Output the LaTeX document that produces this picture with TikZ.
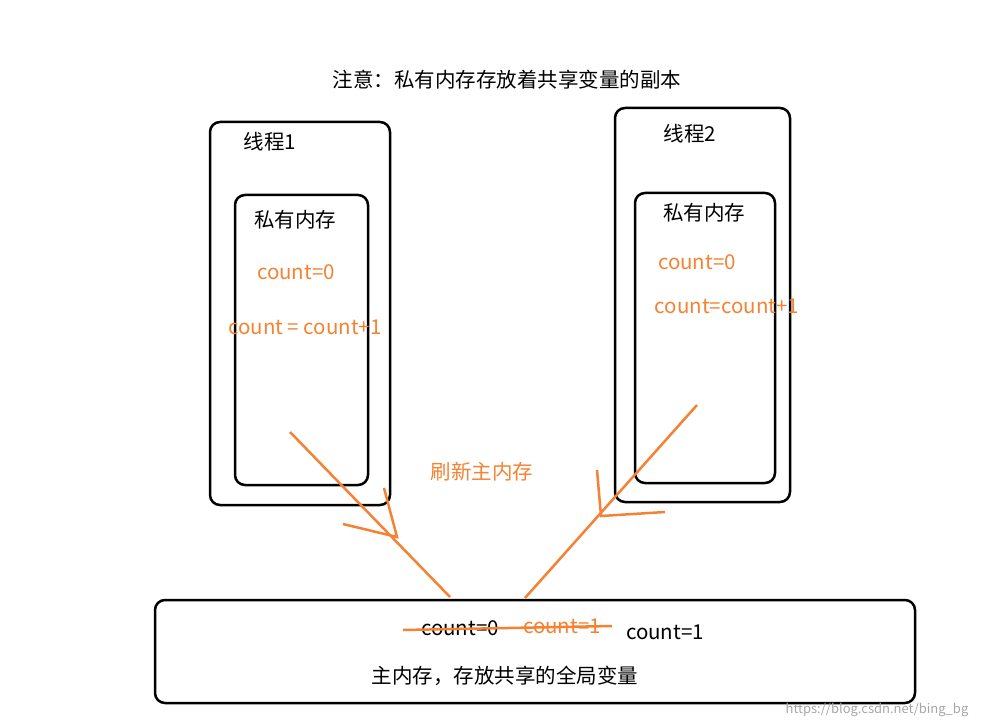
\documentclass[tikz,border=0pt]{standalone}
\usepackage{fontspec}
\setmainfont{Noto Sans CJK SC}
\definecolor{org}{RGB}{245,130,50}
\begin{document}
\begin{tikzpicture}[x=1pt,y=-1pt,
  box/.style={draw=black,line width=2.5pt,rounded corners=10pt},
  txt/.style={font=\fontsize{20.5}{24}\selectfont},
  otxt/.style={txt,text=org},
  oline/.style={draw=org,line width=2.5pt}]
\useasboundingbox (0,0) rectangle (984,727);
\node[txt] (title) at (507,80) {注意：私有内存存放着共享变量的副本};
\draw[box] (210,122) rectangle (390,505);
\node[txt] (l1) at (270,142) {线程1};
\draw[box] (235,195) rectangle (368,485);
\node[txt] (p1) at (295,220) {私有内存};
\node[otxt] (c1) at (296,272) {count=0};
\node[otxt] (c1b) at (305,327) {count = count+1};
\draw[box] (615,108) rectangle (790,502);
\node[txt] (l2) at (690,134) {线程2};
\draw[box] (635,193) rectangle (775,483);
\node[txt] (p2) at (704,213) {私有内存};
\node[otxt] (c2) at (697,262) {count=0};
\node[otxt] (c2b) at (727,306) {count=count+1};
\draw[box] (155,600) rectangle (915,703);
\node[txt] (m0) at (460,628) {count=0};
\node[otxt] (m1) at (562,626) {count=1};
\node[txt] (m2) at (665,632) {count=1};
\node[txt] (mm) at (505,676) {主内存，存放共享的全局变量};
\node[otxt] (fl) at (482,472) {刷新主内存};
\node[font=\fontsize{13}{15}\selectfont,text=gray!70] (wm) at (877,710) {https://blog.csdn.net/bing\_bg};
\coordinate (a1s) at (290,432); \coordinate (a1e) at (450,597);
\coordinate (a2s) at (697,405); \coordinate (a2e) at (525,598);
\draw[oline] (a1s) -- (a1e);
\draw[oline] (343,524) -- (397,537) -- (384,488);
\draw[oline] (a2s) -- (a2e);
\draw[oline] (597,470) -- (601,516) -- (665,512);
\draw[oline] (403,630) -- (612,626);
\end{tikzpicture}
\end{document}
